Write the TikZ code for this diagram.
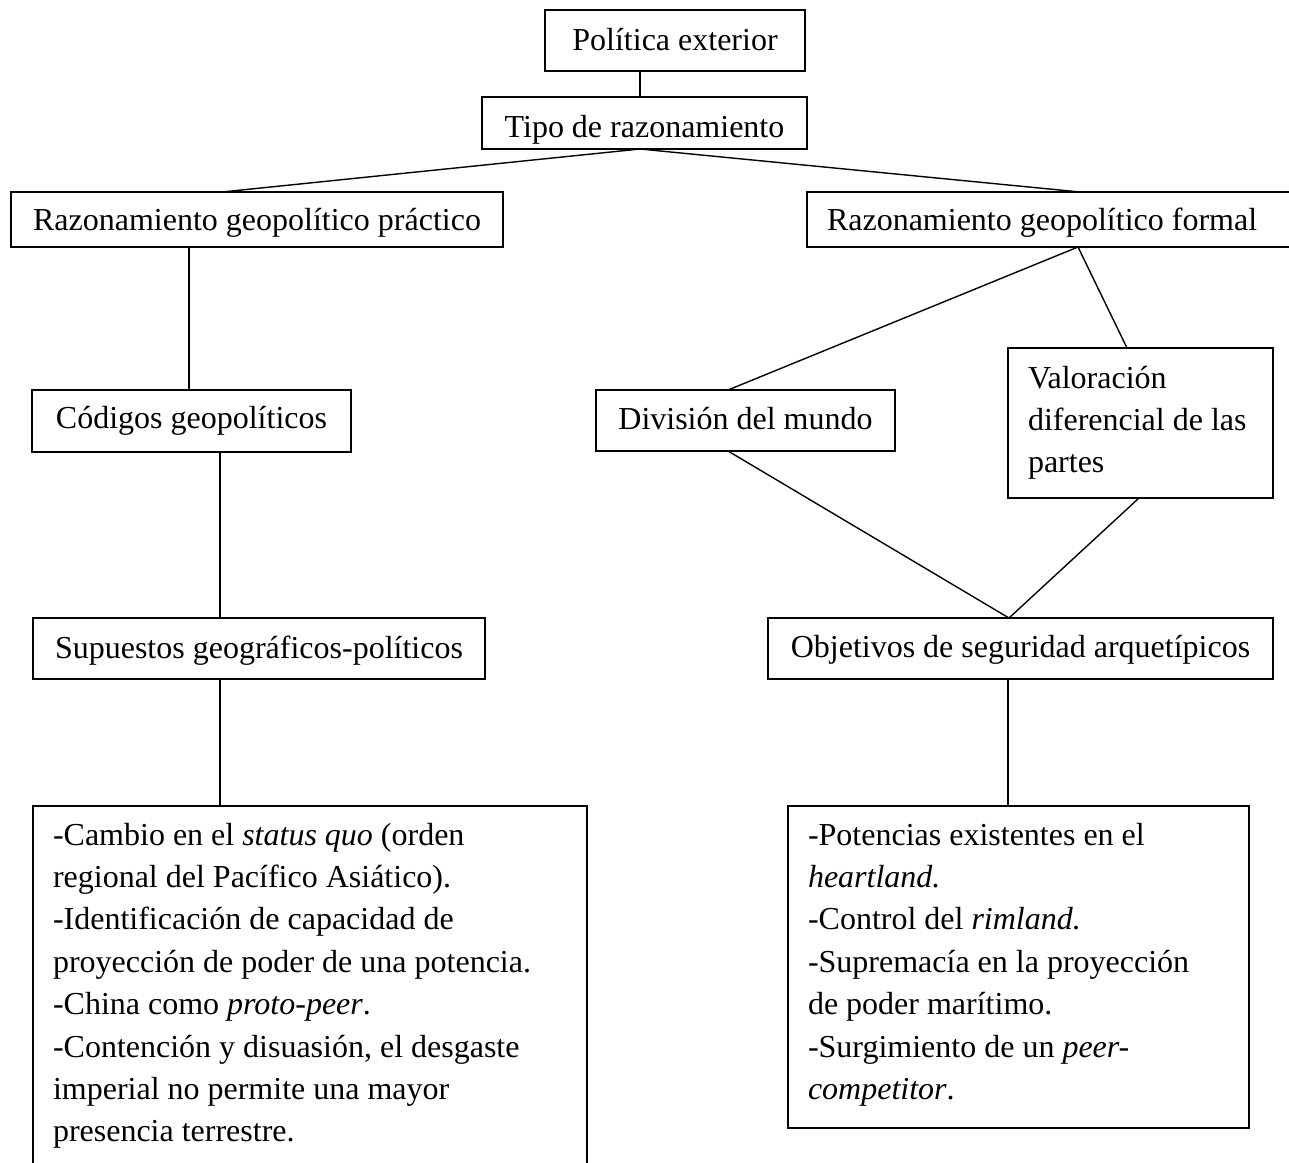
\documentclass[tikz,border=0pt]{standalone}
\usepackage{fontspec}
\setmainfont{Liberation Serif}

\begin{document}
\begin{tikzpicture}[x=0.5pt,y=-0.5pt,line width=0.7pt,
	caja/.style={draw,rectangle,anchor=north west,inner xsep=10pt,inner ysep=0pt,outer sep=0pt,
		font=\fontsize{16pt}{21.2pt}\selectfont},
	lista/.style={caja,align=flush left}]
		\useasboundingbox (0,0) rectangle (1289,1162);
		\node[caja,minimum width=130pt,text height=20pt,text depth=10.5pt](pol) at (545,10) {Política exterior};
		\node[caja,minimum width=162.5pt,text height=20pt,text depth=6pt](tipo) at (482,97) {Tipo de razonamiento};
		\node[caja,minimum width=246pt,text height=19.35pt,text depth=8.15pt](prac) at (11,192) {Razonamiento geopolítico práctico};
		\node[lista,text width=226.5pt,text height=19.35pt,text depth=8.15pt](form) at (807,192) {Razonamiento geopolítico formal};
		\node[caja,minimum width=159.5pt,text height=19pt,text depth=12pt](cod) at (32,390) {Códigos geopolíticos};
		\node[caja,minimum width=149.5pt,text height=19.5pt,text depth=11pt](div) at (596,390) {División del mundo};
		\node[lista,text width=112.5pt,text height=20pt,text depth=55pt](val) at (1008,348) {Valoración\\diferencial de las\\partes};
		\node[caja,minimum width=226pt,text height=20pt,text depth=10.5pt](sup) at (33,618) {Supuestos geográficos-políticos};
		\node[caja,minimum width=252.5pt,text height=19.5pt,text depth=11pt](obj) at (768,618) {Objetivos de seguridad arquetípicos};
		\node[lista,text width=257pt,text height=19.5pt,text depth=172.5pt](listaprac) at (33,806) {-Cambio en el \textit{status quo} (orden\\regional del Pacífico Asiático).\\-Identificación de capacidad de\\proyección de poder de una potencia.\\-China como \textit{proto-peer}.\\-Contención y disuasión, el desgaste\\imperial no permite una mayor\\presencia terrestre.};
		\node[lista,text width=210.5pt,text height=19.5pt,text depth=141.5pt](listaform) at (788,806) {-Potencias existentes en el\\\textit{heartland.}\\-Control del \textit{rimland.}\\-Supremacía en la proyección\\de poder marítimo.\\-Surgimiento de un \textit{peer-}\\\textit{competitor}.};
		\draw (pol.south -| 640,0)--(tipo.north -| 640,0);
		\draw (tipo.south -| 640,0)--(prac.north -| 222,0);
		\draw (tipo.south -| 640,0)--(form.north -| 1080,0);
		\draw (prac.south -| 189,0)--(cod.north -| 189,0);
		\draw (cod.south -| 220,0)--(sup.north -| 220,0);
		\draw (sup.south -| 220,0)--(listaprac.north -| 220,0);
		\draw (form.south -| 1078,0)--(div.north -| 728,0);
		\draw (form.south -| 1078,0)--(val.north -| 1127,0);
		\draw (div.south -| 728,0)--(obj.north -| 1009,0);
		\draw (val.south -| 1139,0)--(obj.north -| 1009,0);
		\draw (obj.south -| 1008,0)--(listaform.north -| 1008,0);
	\end{tikzpicture}
\end{document}
